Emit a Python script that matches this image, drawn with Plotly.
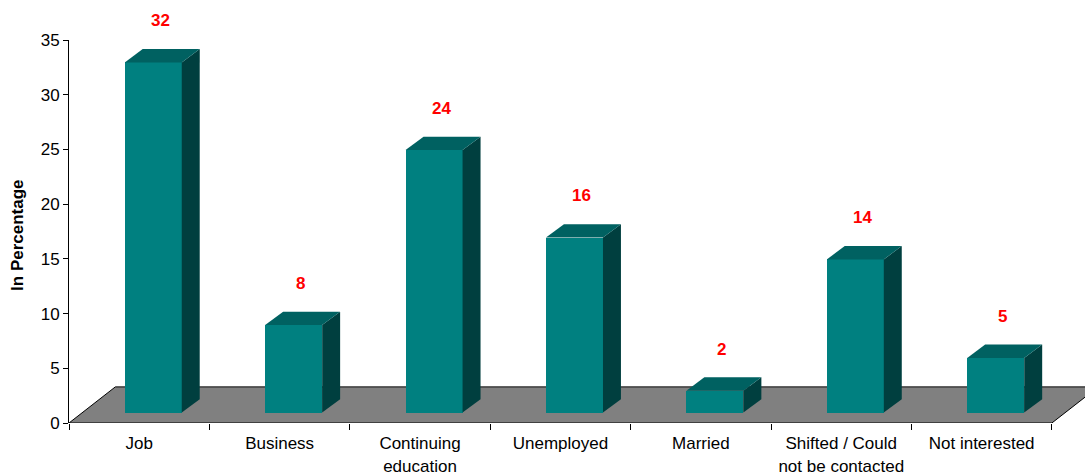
import plotly.graph_objects as go

categories = ["Job", "Business", "Continuing<br>education", "Unemployed", "Married",
              "Shifted / Could<br>not be contacted", "Not interested"]
values = [32, 8, 24, 16, 2, 14, 5]
value_labels = ["32", "8", "24", "16", "2", "14", "5"]
y_ticks = [0, 5, 10, 15, 20, 25, 30, 35]

FONT = "Arial, Liberation Sans, sans-serif"
FRONT = "#008080"
TOP = "#006161"
SIDE = "#003f3f"

n = len(categories)
centers = [i + 0.5 for i in range(n)]
boundaries = list(range(n + 1))
Y_MAX = 35

# pseudo-3D geometry (in axis units)
bar_w = 0.406
bar_shift = 0.10      # front face shift right from category centre
bar_base = 0.95       # front face raised (depth position)
ddx, ddy = 0.128, 1.22  # bar depth projection
fdx, fdy = 0.33, 3.3    # floor depth projection

fig = go.Figure()

# front faces
fig.add_trace(go.Bar(
    x=[c + bar_shift for c in centers], y=values, base=bar_base, width=bar_w,
    marker=dict(color=FRONT, line=dict(width=0)), showlegend=False, hoverinfo="skip"))

# side and top faces
for c, v in zip(centers, values):
    xl = c + bar_shift - bar_w / 2
    xr = c + bar_shift + bar_w / 2
    b = bar_base
    t = bar_base + v
    fig.add_trace(go.Scatter(
        x=[xr, xr + ddx, xr + ddx, xr, xr], y=[b, b + ddy, t + ddy, t, b],
        fill="toself", fillcolor=SIDE, mode="lines", line=dict(width=0, color=SIDE),
        showlegend=False, hoverinfo="skip"))
    fig.add_trace(go.Scatter(
        x=[xl, xr, xr + ddx, xl + ddx, xl], y=[t, t, t + ddy, t + ddy, t],
        fill="toself", fillcolor=TOP, mode="lines", line=dict(width=0, color=TOP),
        showlegend=False, hoverinfo="skip"))

# floor
fig.add_shape(
    type="path", xref="x", yref="y", layer="below",
    path=f"M 0 0 L {n} 0 L {n + fdx} {fdy} L {fdx} {fdy} Z",
    fillcolor="#808080", line=dict(color="black", width=1))

annotations = [dict(
    text="In Percentage", xref="paper", yref="paper", x=-0.0502, y=0.491,
    xanchor="center", yanchor="middle", textangle=-90, showarrow=False,
    font=dict(family=FONT, size=17, color="black", weight="bold"))]

# value labels (y in paper fraction of the y range so labels above the range still show)
for c, v, lab in zip(centers, values, value_labels):
    annotations.append(dict(
        text=lab, x=c + 0.15, y=(v + 4.75) / Y_MAX, xref="x", yref="paper", showarrow=False,
        xanchor="center", yanchor="middle",
        font=dict(family=FONT, size=17, color="#ff0000", weight="bold")))

fig.update_layout(
    width=1085, height=474,
    margin=dict(l=69, r=0, t=40, b=51),
    plot_bgcolor="white", paper_bgcolor="white",
    font=dict(family=FONT, size=17, color="black"),
    bargap=0,
    xaxis=dict(
        range=[0, 7.236], showgrid=False, zeroline=False, showline=False, automargin=False,
        tickmode="array", tickvals=centers, ticktext=categories,
        ticks="outside", ticklen=5, tickcolor="rgba(0,0,0,0)",
        tickfont=dict(family=FONT, size=17, color="black"),
        minor=dict(tickmode="array", tickvals=boundaries, ticks="outside", ticklen=6,
                   tickcolor="black", tickwidth=1, showgrid=False),
    ),
    yaxis=dict(
        range=[0, Y_MAX], showgrid=False, zeroline=False, showline=True, linecolor="black",
        linewidth=1, automargin=False, tickmode="array", tickvals=y_ticks,
        ticks="outside", ticklen=5,
        tickcolor="black", tickfont=dict(family=FONT, size=17, color="black"),
    ),
    annotations=annotations,
)

fig.write_html("out.html", config={"displayModeBar": False},
               post_script="document.body.style.margin='0';document.body.style.overflow='hidden';")
